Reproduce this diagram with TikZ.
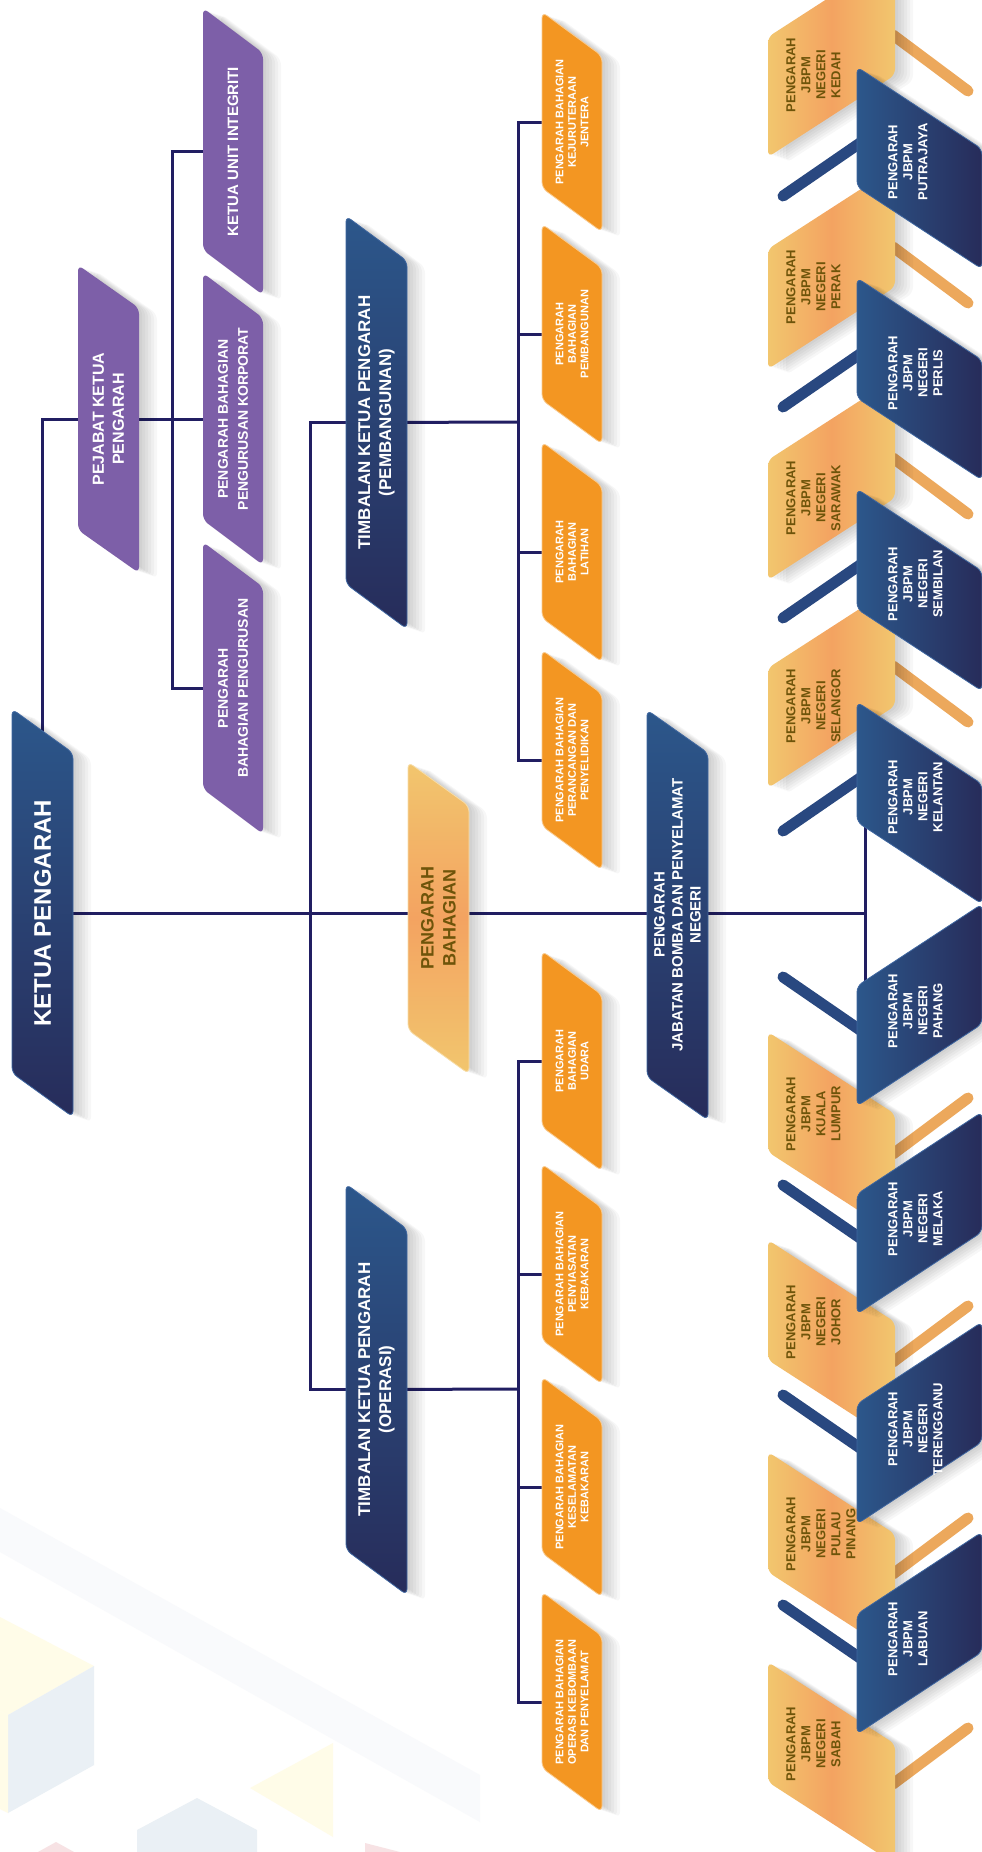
\documentclass[tikz,border=0pt]{standalone}
\usepackage{fontspec}
\setmainfont{Liberation Sans}
\usetikzlibrary{calc}

\definecolor{navyTop}{RGB}{44,87,139}
\definecolor{navyBot}{RGB}{39,44,90}
\definecolor{navyEdge}{RGB}{62,102,160}
\definecolor{linkNavy}{RGB}{33,30,98}
\definecolor{purp}{RGB}{125,95,168}
\definecolor{bhgOrange}{RGB}{243,150,34}
\definecolor{sandLight}{RGB}{242,198,110}
\definecolor{sandMid}{RGB}{243,163,97}
\definecolor{olive}{RGB}{110,84,10}
\definecolor{barSand}{RGB}{236,168,92}
\definecolor{barNavy}{RGB}{41,72,128}
\definecolor{fogBlue}{RGB}{249,250,252}
\definecolor{fogBlueB}{RGB}{234,240,245}
\definecolor{fogYellow}{RGB}{255,252,232}
\definecolor{fogPink}{RGB}{247,226,228}

\pgfdeclarelayer{decor}
\pgfdeclarelayer{links}
\pgfsetlayers{decor,links,main}

\tikzset{
  conn/.style={draw=linkNavy, line width=3},
  navybox/.style={top color=navyTop, bottom color=navyBot, draw=navyEdge, line width=0.8, rounded corners=6},
  purplebox/.style={fill=purp, rounded corners=6},
  bhgbox/.style={fill=bhgOrange, draw=bhgOrange!50!white, line width=0.8, rounded corners=6},
  sandbox/.style={top color=sandLight, bottom color=sandLight, middle color=sandMid, draw=sandLight!60!white, line width=0.8, rounded corners=6},
  sandstatebox/.style={left color=sandLight, right color=sandLight, middle color=sandMid, rounded corners=6},
  navystatebox/.style={left color=navyTop, right color=navyBot, draw=navyEdge, line width=0.8, rounded corners=6},
  sandbar/.style={draw=barSand, line width=11, line cap=round},
  navybar/.style={draw=barNavy, line width=11, line cap=round},
  lbl/.style={rotate=90, align=center, text=white, inner sep=0},
  bhgtxt/.style={lbl, font=\bfseries\fontsize{11}{12.5}\selectfont},
  sandtxt/.style={lbl, text=olive, font=\bfseries\fontsize{13}{15}\selectfont},
  navytxt/.style={lbl, font=\bfseries\fontsize{13}{15}\selectfont}
}

% parallelogram: left x, top y, width, slant, side
\newcommand{\slantshape}[5]{({#1},{#2}) -- ++({#3},{#4}) -- ++(0,{#5}) -- ++({-(#3)},{-(#4)}) -- cycle}
\newcommand{\softshadow}[5]{\foreach \sh in {3,6,...,18}{\path[fill=black, opacity=0.03, xshift=\sh, yshift=-\sh/3, rounded corners=6] \slantshape{#1}{#2}{#3}{#4}{#5};}}
% name, box style, text style, left, top, width, slant, side, text
\newcommand{\orgbox}[9]{%
  \softshadow{#4}{#5}{#6}{#7}{#8}
  \path[#2] \slantshape{#4}{#5}{#6}{#7}{#8};
  \node[#3] (#1) at ({#4+#6/2},{#5+#7/2+#8/2}) {#9};
}
% name, middle of left side, 1 above / -1 below, text
\newcommand{\sandstate}[4]{%
  \begin{pgfonlayer}{links}
    \draw[sandbar] ({893},{#2-62*(#3)}) -- ({968},{#2-6*(#3)});
  \end{pgfonlayer}
  \softshadow{768}{#2-60}{127}{-82*(#3)}{120}
  \path[sandstatebox] \slantshape{768}{#2-60}{127}{-82*(#3)}{120};
  \node[sandtxt, anchor=north] (#1) at ({786},{#2-22*(#3)}) {#4};
}
\newcommand{\navystate}[4]{%
  \begin{pgfonlayer}{links}
    \draw[navybar] ({860},{#2+16*(#3)}) -- ({783},{#2+69*(#3)});
  \end{pgfonlayer}
  \softshadow{857}{#2-60}{125}{82*(#3)}{120}
  \path[navystatebox] \slantshape{857}{#2-60}{125}{82*(#3)}{120};
  \node[navytxt, anchor=north] (#1) at ({888},{#2+35*(#3)}) {#4};
}

\begin{document}
\begin{tikzpicture}[x=1pt, y=-1pt]
\useasboundingbox (0,0) rectangle (982,1852);
\clip (0,0) rectangle (982,1852);

\begin{pgfonlayer}{decor}
  \fill[white] (0,0) rectangle (982,1852);
  \fill[fogBlue] (0,1508) -- (480,1775) -- (480,1822) -- (0,1552) -- cycle;
  \fill[fogYellow] (0,1617) -- (94,1666) -- (8,1715) -- (0,1711) -- cycle;
  \fill[fogBlueB] (8,1715) -- (94,1666) -- (94,1765) -- (8,1813) -- cycle;
  \fill[fogYellow] (0,1711) -- (8,1715) -- (8,1813) -- (0,1809) -- cycle;
  \fill[fogYellow] (333,1743) -- (333,1837) -- (250,1788) -- cycle;
  \fill[fogBlueB] (137,1830) -- (197,1798) -- (257,1830) -- (257,1852) -- (137,1852) -- cycle;
  \fill[fogPink] (38,1852) -- (56,1842) -- (74,1852) -- cycle;
  \fill[fogPink] (365,1843) -- (400,1852) -- (365,1852) -- cycle;
\end{pgfonlayer}

% top management
\orgbox{ketua}{navybox}{lbl, font=\bfseries\fontsize{24}{28}\selectfont}{12}{709}{61}{44}{364}{KETUA PENGARAH}
\orgbox{pejabat}{purplebox}{lbl, font=\bfseries\fontsize{16}{20}\selectfont}{78}{265}{61}{43}{265}{PEJABAT KETUA\\PENGARAH}
\orgbox{integriti}{purplebox}{lbl, font=\bfseries\fontsize{15}{18}\selectfont}{203}{8}{60}{45}{242}{KETUA UNIT INTEGRITI}
\orgbox{korporat}{purplebox}{lbl, font=\bfseries\fontsize{14}{20}\selectfont}{203}{273}{60}{45}{247}{PENGARAH BAHAGIAN\\PENGURUSAN KORPORAT}
\orgbox{pengurusan}{purplebox}{lbl, font=\bfseries\fontsize{14}{20}\selectfont}{203}{542}{60}{45}{247}{PENGARAH\\BAHAGIAN PENGURUSAN}
\orgbox{tkpPemb}{navybox}{lbl, font=\bfseries\fontsize{17}{21}\selectfont}{346}{216}{61}{45}{368}{TIMBALAN KETUA PENGARAH\\(PEMBANGUNAN)}
\orgbox{tkpOps}{navybox}{lbl, font=\bfseries\fontsize{17}{21}\selectfont}{346}{1184}{61}{45}{366}{TIMBALAN KETUA PENGARAH\\(OPERASI)}
\orgbox{bhg}{sandbox}{lbl, text=olive, font=\bfseries\fontsize{18}{22}\selectfont}{408}{762}{61}{44}{268}{PENGARAH\\BAHAGIAN}
\orgbox{jbpm}{navybox}{lbl, font=\bfseries\fontsize{15}{18}\selectfont}{647}{710}{61}{43}{367}{PENGARAH\\JABATAN BOMBA DAN PENYELAMAT\\NEGERI}

% bahagian
\orgbox{jentera}{bhgbox}{bhgtxt}{542}{12}{60}{44}{176}{PENGARAH BAHAGIAN\\KEJURUTERAAN\\JENTERA}
\orgbox{pembangunan}{bhgbox}{bhgtxt}{542}{224}{60}{44}{176}{PENGARAH\\BAHAGIAN\\PEMBANGUNAN}
\orgbox{latihan}{bhgbox}{bhgtxt}{542}{442}{60}{44}{176}{PENGARAH\\BAHAGIAN\\LATIHAN}
\orgbox{perancangan}{bhgbox}{bhgtxt}{542}{650}{60}{44}{176}{PENGARAH BAHAGIAN\\PERANCANGAN DAN\\PENYELIDIKAN}
\orgbox{udara}{bhgbox}{bhgtxt}{542}{951}{60}{44}{176}{PENGARAH\\BAHAGIAN\\UDARA}
\orgbox{penyiasatan}{bhgbox}{bhgtxt}{542}{1164}{60}{44}{176}{PENGARAH BAHAGIAN\\PENYIASATAN\\KEBAKARAN}
\orgbox{keselamatan}{bhgbox}{bhgtxt}{542}{1377}{60}{44}{176}{PENGARAH BAHAGIAN\\KESELAMATAN\\KEBAKARAN}
\orgbox{operasi}{bhgbox}{bhgtxt}{542}{1592}{60}{44}{176}{PENGARAH BAHAGIAN\\OPERASI KEBOMBAAN\\DAN PENYELAMAT}

% negeri
\sandstate{kedah}{97}{1}{PENGARAH\\JBPM\\NEGERI\\KEDAH}
\sandstate{perak}{309}{1}{PENGARAH\\JBPM\\NEGERI\\PERAK}
\sandstate{sarawak}{520}{1}{PENGARAH\\JBPM\\NEGERI\\SARAWAK}
\sandstate{selangor}{728}{1}{PENGARAH\\JBPM\\NEGERI\\SELANGOR}
\sandstate{kl}{1092}{-1}{PENGARAH\\JBPM\\KUALA\\LUMPUR}
\sandstate{johor}{1300}{-1}{PENGARAH\\JBPM\\NEGERI\\JOHOR}
\sandstate{pinang}{1512}{-1}{PENGARAH\\JBPM\\NEGERI\\PULAU\\PINANG}
\sandstate{sabah}{1722}{-1}{PENGARAH\\JBPM\\NEGERI\\SABAH}
\navystate{putrajaya}{127}{1}{PENGARAH\\JBPM\\PUTRAJAYA}
\navystate{perlis}{338}{1}{PENGARAH\\JBPM\\NEGERI\\PERLIS}
\navystate{sembilan}{549}{1}{PENGARAH\\JBPM\\NEGERI\\SEMBILAN}
\navystate{kelantan}{762}{1}{PENGARAH\\JBPM\\NEGERI\\KELANTAN}
\navystate{pahang}{1046}{-1}{PENGARAH\\JBPM\\NEGERI\\PAHANG}
\navystate{melaka}{1254}{-1}{PENGARAH\\JBPM\\NEGERI\\MELAKA}
\navystate{terengganu}{1464}{-1}{PENGARAH\\JBPM\\NEGERI\\TERENGGANU}
\navystate{labuan}{1674}{-1}{PENGARAH\\JBPM\\LABUAN}

\begin{pgfonlayer}{links}
  \coordinate (kbus) at (172,419);
  \coordinate (tbus) at (310,913);
  \coordinate (sbus) at (865,913);
  \coordinate (pbus) at (518,422);
  \coordinate (obus) at (518,1389);
  \draw[conn] (ketua) |- (pejabat);
  \draw[conn] (pejabat) -- (korporat);
  \draw[conn] (integriti) -| (kbus) |- (pengurusan);
  \draw[conn] (ketua) -- (sbus);
  \draw[conn] (tkpPemb) -| (tbus) |- (tkpOps);
  \draw[conn] (tkpPemb) -- (pbus);
  \draw[conn] (jentera) -| (pbus) |- (perancangan);
  \draw[conn] (pembangunan) -- (pembangunan -| pbus);
  \draw[conn] (latihan) -- (latihan -| pbus);
  \draw[conn] (tkpOps) -- (obus);
  \draw[conn] (udara) -| (obus) |- (operasi);
  \draw[conn] (penyiasatan) -- (penyiasatan -| obus);
  \draw[conn] (keselamatan) -- (keselamatan -| obus);
  \draw[conn] (kelantan -| sbus) -- (pahang -| sbus);
\end{pgfonlayer}
\end{tikzpicture}
\end{document}
